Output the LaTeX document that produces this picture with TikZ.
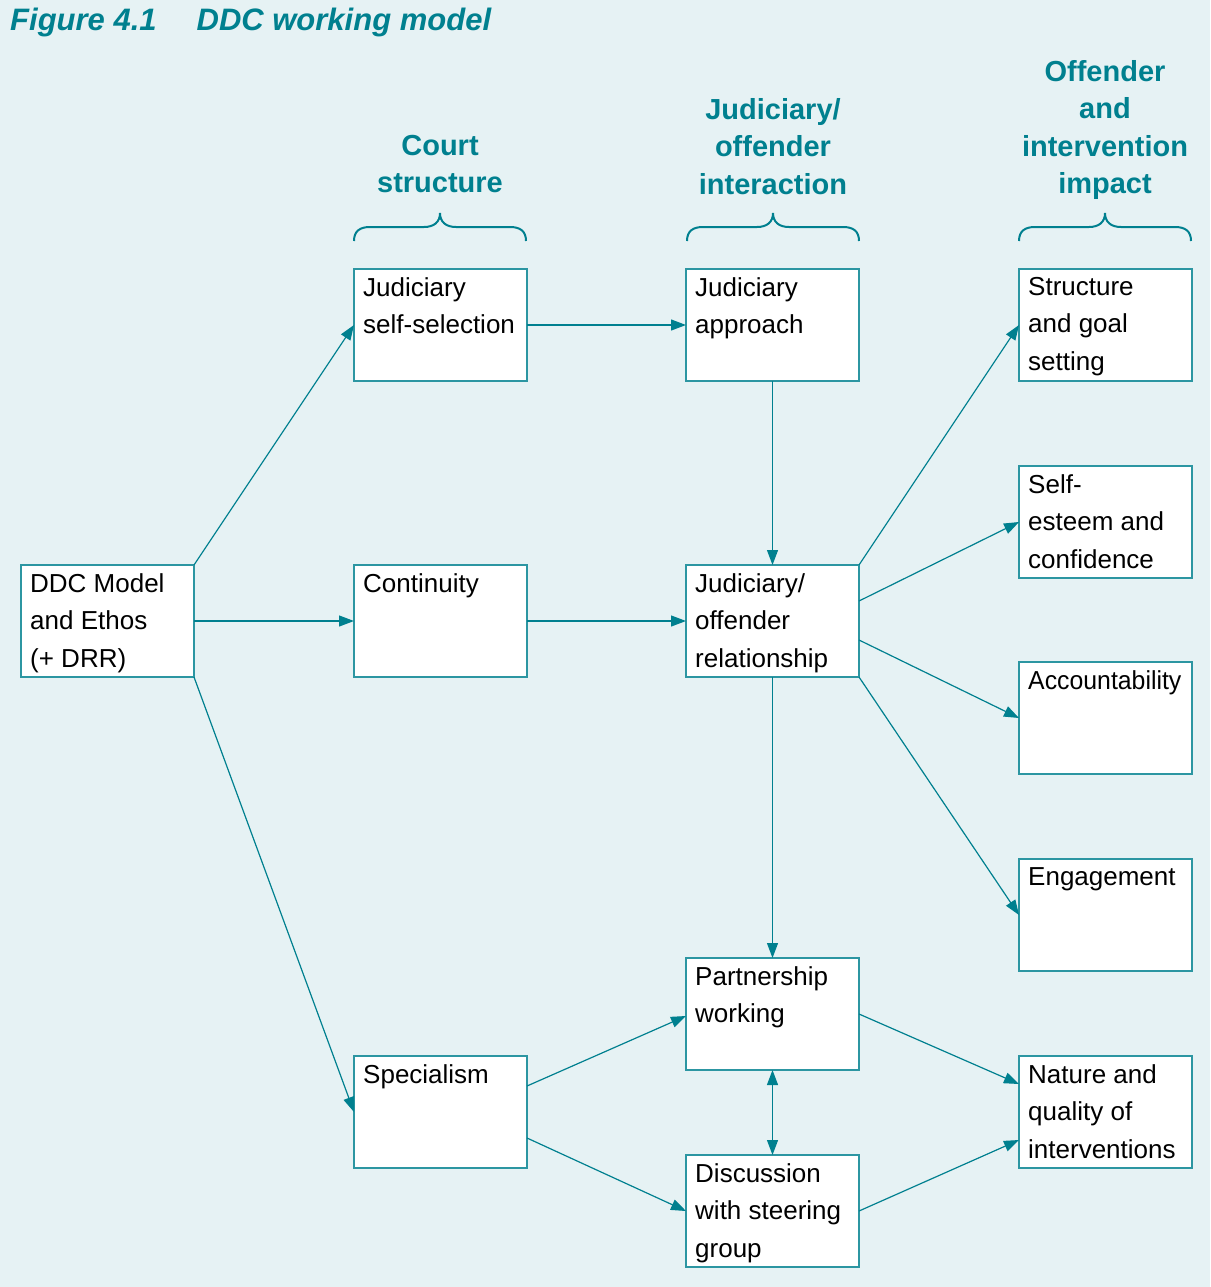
\documentclass[tikz,border=0pt]{standalone}
\usepackage{fontspec}
\setmainfont{Liberation Sans}
\usetikzlibrary{arrows.meta,calc}
\definecolor{teal}{HTML}{00808F}
\definecolor{bgc}{HTML}{E6F2F4}
\definecolor{edge}{HTML}{2C96A2}
\begin{document}
\begin{tikzpicture}[x=1pt,y=-1pt,
  box/.style={draw=edge,line width=1.3pt,fill=white,anchor=north west,
    minimum width=173pt,minimum height=112pt,inner sep=0pt,outer sep=0pt},
  txt/.style={anchor=north west,inner xsep=9pt,inner ysep=8pt,align=left,
    font=\fontsize{26}{37.5}\selectfont},
  hdr/.style={anchor=north,inner sep=0pt,align=center,text=teal,
    font=\fontsize{29}{37.5}\selectfont\bfseries},
  arr/.style={draw=teal,line width=1.2pt,-{Triangle[length=15pt,width=11pt]}},
  arr2/.style={draw=teal,line width=1.2pt,{Triangle[length=15pt,width=11pt]}-{Triangle[length=15pt,width=11pt]}},
  brace/.style={draw=teal,line width=2pt}]
\useasboundingbox (0,0) rectangle (1210,1287);
\fill[bgc] (0,0) rectangle (1210,1287);
% title
\node[anchor=base west,inner sep=0pt,text=teal,font=\fontsize{31}{36}\selectfont\bfseries\itshape] (title) at (10,31) {Figure 4.1\hspace{40pt}DDC working model};
% headers
\node[hdr] (h1) at (440,135) {Court\\structure};
\node[hdr] (h2) at (773,98) {Judiciary/\\offender\\interaction};
\node[hdr] (h3) at (1105,60) {Offender\\and\\intervention\\impact};
% braces
\foreach \cx in {440,773,1105}{
  \draw[brace] (\cx-86,241) .. controls (\cx-86,231) and (\cx-80,227) .. (\cx-70,227)
    -- (\cx-16,227) .. controls (\cx-6,227) and (\cx,222) .. (\cx,213)
    .. controls (\cx,222) and (\cx+6,227) .. (\cx+16,227)
    -- (\cx+70,227) .. controls (\cx+80,227) and (\cx+86,231) .. (\cx+86,241);
}
% boxes
\node[box] (ddc) at (21,565) {};
\node[box] (jss) at (354,269) {};
\node[box] (cont) at (354,565) {};
\node[box] (spec) at (354,1056) {};
\node[box] (ja) at (686,269) {};
\node[box] (jor) at (686,565) {};
\node[box] (pw) at (686,958) {};
\node[box] (dsg) at (686,1155) {};
\node[box] (sg) at (1019,269) {};
\node[box] (se) at (1019,466) {};
\node[box] (acc) at (1019,662) {};
\node[box] (eng) at (1019,859) {};
\node[box] (nq) at (1019,1056) {};
% texts
\node[txt] (ddct) at (ddc.north west) {DDC Model\\and Ethos\\(+ DRR)};
\node[txt] (jsst) at (jss.north west) {Judiciary\\self-selection};
\node[txt] (contt) at (cont.north west) {Continuity};
\node[txt] (spect) at (spec.north west) {Specialism};
\node[txt] (jat) at (ja.north west) {Judiciary\\approach};
\node[txt] (jort) at (jor.north west) {Judiciary/\\offender\\relationship};
\node[txt] (pwt) at (pw.north west) {Partnership\\working};
\node[txt] (dsgt) at (dsg.north west) {Discussion\\with steering\\group};
\node[txt] (sgt) at (sg.north west) {Structure\\and goal\\setting};
\node[txt] (set) at (se.north west) {Self-\\esteem and\\confidence};
\node[txt] (acct) at (acc.north west) {\scalebox{0.955}[1]{Accountability}};
\node[txt] (engt) at (eng.north west) {Engagement};
\node[txt] (nqt) at (nq.north west) {Nature and\\quality of\\interventions};
% connectors
\draw[arr] (ddc.north east) -- (jss.west);
\draw[arr] (ddc.east) -- (cont.west);
\draw[arr] (ddc.south east) -- (spec.west);
\draw[arr] (jss.east) -- (ja.west);
\draw[arr] (cont.east) -- (jor.west);
\draw[arr] (ja.south) -- (jor.north);
\draw[arr] (jor.south) -- (pw.north);
\draw[arr] (jor.north east) -- (sg.west);
\draw[arr] ($(jor.east)+(0,-20)$) -- (se.west);
\draw[arr] ($(jor.east)+(0,19)$) -- (acc.west);
\draw[arr] (jor.south east) -- (eng.west);
\draw[arr] ($(spec.east)+(0,-26)$) -- ($(pw.west)+(0,2)$);
\draw[arr] ($(spec.east)+(0,26)$) -- (dsg.west);
\draw[arr2] (pw.south) -- (dsg.north);
\draw[arr] (pw.east) -- ($(nq.west)+(0,-28)$);
\draw[arr] (dsg.east) -- ($(nq.west)+(0,28)$);
\end{tikzpicture}
\end{document}
